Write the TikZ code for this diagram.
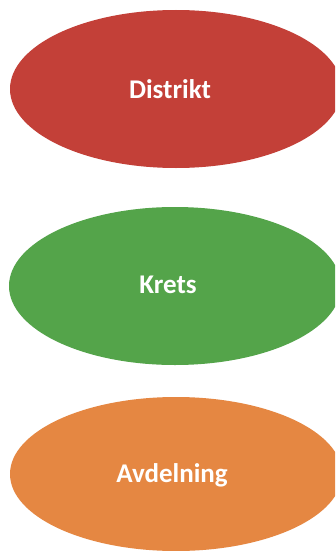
\documentclass[tikz,border=0pt]{standalone}
\usepackage{fontspec}
\setmainfont{Carlito}
\usetikzlibrary{shapes.geometric}
\definecolor{cred}{RGB}{195,64,56}
\definecolor{cgreen}{RGB}{84,164,74}
\definecolor{corange}{RGB}{229,135,66}
\tikzset{
  oval/.style={ellipse, draw=none, inner sep=0pt, minimum width=332pt, minimum height=158pt},
  lbl/.style={text=white, font=\fontsize{27}{32}\selectfont\bfseries, inner sep=0pt}
}
\begin{document}
\begin{tikzpicture}[x=1pt,y=-1pt]
\useasboundingbox (0,0) rectangle (335,551);
\clip (0,0) rectangle (335,551);
\fill[white] (0,0) rectangle (335,551);
\node[oval, fill=cred] (e1) at (176,89) {};
\node[oval, fill=cgreen] (e2) at (175,286) {};
\node[oval, fill=corange, minimum height=154pt] (e3) at (176,474) {};
\node[lbl] (t1) at (170,89) {Distrikt};
\node[lbl] (t2) at (168,285) {Krets};
\node[lbl] (t3) at (172,475) {Avdelning};
\end{tikzpicture}
\end{document}
